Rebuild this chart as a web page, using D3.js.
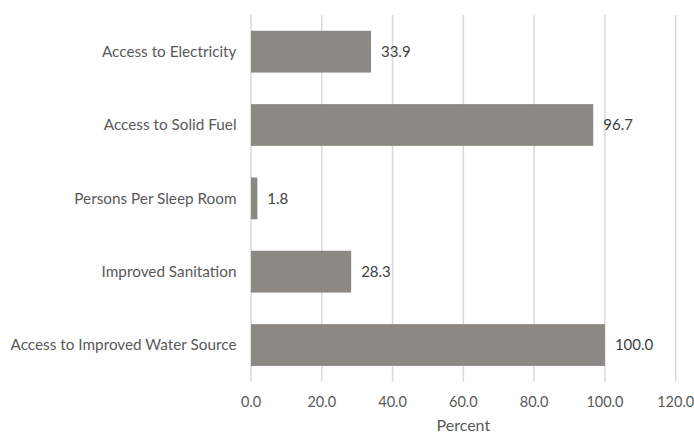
<!DOCTYPE html>
<html><head><meta charset="utf-8">
<script src="https://cdn.jsdelivr.net/npm/d3@7"></script>
<style>body{margin:0;background:#fff}svg{display:block}</style>
</head><body>
<svg id="c" width="694" height="435"></svg>
<script>
const categories = ["Access to Electricity","Access to Solid Fuel","Persons Per Sleep Room","Improved Sanitation","Access to Improved Water Source"];
const values = [33.9, 96.7, 1.8, 28.3, 100.0];
const xTicks = [0,20,40,60,80,100,120];
const xTitle = "Percent";

const svg = d3.select("#c");
const font = "Lato, 'Open Sans', sans-serif";
const x = d3.scaleLinear().domain([0,120]).range([251,675.7]);
const y = d3.scaleBand().domain(categories).range([15,381.7]).paddingInner(0.43).paddingOuter(0.215);

svg.append("g").selectAll("line").data(xTicks).join("line")
  .attr("x1",d=>x(d)).attr("x2",d=>x(d)).attr("y1",15).attr("y2",381.7)
  .attr("stroke","#d9d9d9").attr("stroke-width",1.5);

svg.append("g").selectAll("rect").data(values).join("rect")
  .attr("x",x(0)).attr("y",(d,i)=>y(categories[i]))
  .attr("width",d=>x(d)-x(0)).attr("height",y.bandwidth())
  .attr("fill","#8c8984");

svg.append("g").selectAll("text").data(values).join("text")
  .attr("x",d=>x(d)+10).attr("y",(d,i)=>y(categories[i])+y.bandwidth()/2)
  .attr("dy","0.35em").attr("font-family",font).attr("font-size",15)
  .attr("fill","#404040").text(d=>d.toFixed(1));

svg.append("g").selectAll("text").data(categories).join("text")
  .attr("x",236.5).attr("y",d=>y(d)+y.bandwidth()/2).attr("dy","0.35em")
  .attr("text-anchor","end").attr("font-family",font).attr("font-size",15.3)
  .attr("fill","#595959").text(d=>d);

svg.append("g").selectAll("text").data(xTicks).join("text")
  .attr("x",d=>x(d)).attr("y",402).attr("dy","0.35em").attr("text-anchor","middle")
  .attr("font-family",font).attr("font-size",14.5).attr("fill","#595959")
  .text(d=>d.toFixed(1));

svg.append("text").attr("x",x(60)).attr("y",431).attr("text-anchor","middle")
  .attr("font-family",font).attr("font-size",16).attr("fill","#595959").text(xTitle);
</script>
</body></html>
